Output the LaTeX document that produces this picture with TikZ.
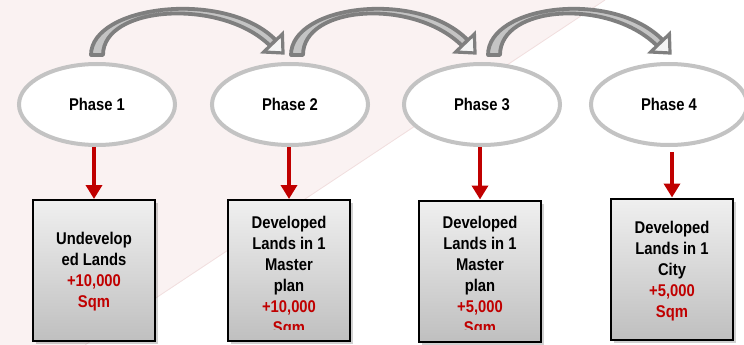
\documentclass[tikz,border=0pt]{standalone}
\usepackage{fontspec}
\newfontfamily\lsb{Liberation Sans}[FakeStretch=0.87]
\usetikzlibrary{shapes.geometric,arrows.meta,calc,shadows}
\definecolor{pinkbg}{HTML}{FAF2F2}
\definecolor{pinkline}{HTML}{F1DEDE}
\definecolor{ellgray}{HTML}{C3C3C3}
\definecolor{arrgray}{HTML}{7F7F7F}
\definecolor{arrlight}{HTML}{C4C4C4}
\definecolor{headfill}{HTML}{F4F4F4}
\definecolor{tred}{HTML}{C00000}
\begin{document}
\begin{tikzpicture}[x=1pt,y=-1pt,
 phase/.style={ellipse, draw=ellgray, line width=4pt, fill=white,
   minimum width=156pt, minimum height=81pt, inner sep=0pt,
   font=\lsb\bfseries\fontsize{17}{21}\selectfont},
 landbox/.style={rectangle, draw=black, line width=2pt,
   top color=gray!12, bottom color=gray!50,
   minimum width=122pt, minimum height=141pt, inner sep=0pt,
   drop shadow={shadow xshift=3pt, shadow yshift=-3pt, fill=black, opacity=0.18}},
 boxtext/.style={align=center, inner sep=0pt,
   font=\lsb\bfseries\fontsize{17}{21}\selectfont},
 downarrow/.style={draw=tred, line width=4pt, -{Triangle[width=16pt,length=14pt]}},
 band/.style={fill=arrlight, draw=arrgray, line width=3.8pt, line join=round},
 headtip/.style={fill=headfill, draw=arrgray, line width=3.2pt, line join=miter}
]
\useasboundingbox (0,0) rectangle (744,345);
% background
\fill[white] (0,0) rectangle (744,345);
\fill[pinkbg] (0,0) -- (605,0) -- (85,345) -- (0,345) -- cycle;
\draw[pinkline, line width=0.8pt] (605,0) -- (85,345);

% phases
\node[phase] (p1) at (97,104.5) {Phase 1};
\node[phase] (p2) at (290,104.5) {Phase 2};
\node[phase] (p3) at (482,104.5) {Phase 3};
\node[phase] (p4) at (669,104.5) {Phase 4};

% curved arrows
\foreach \a/\b/\sx/\tx in {p1/p2/0/-7, p2/p3/7/-7, p3/p4/12/1}{
  \path let \p1=($(\a.north)+(\sx,-7)$), \p2=($(\b.north)+(\tx,-9)$) in
    [band] (\x1-6pt,\y1) .. controls (\x1-6pt,\y1+50pt) and (\x2-57pt,\y2+64pt) .. (\x2-7.1pt,\y2+12.8pt)
    -- (\x2-12.9pt,\y2+7.2pt) .. controls (\x2-61pt,\y2+55pt) and (\x1+6pt,\y1+50pt) .. (\x1+6pt,\y1) -- cycle;
  \path let \p2=($(\b.north)+(\tx,-9)$) in
    [headtip] (\x2,\y2) -- (\x2-0.6pt,\y2+19pt) -- (\x2-19.4pt,\y2+1pt) -- cycle;
}

% boxes
\node[landbox] (b1) at (94,270.5) {};
\node[landbox] (b2) at (289,270.5) {};
\node[landbox] (b3) at (480,271) {};
\node[landbox] (b4) at (672,269) {};

\node[boxtext] (t1) at (94,272) {Undevelop\\ed Lands\\\textcolor{tred}{+10,000}\\\textcolor{tred}{Sqm}};
\begin{scope}
  \clip (b2.north west) rectangle ($(b2.south east)+(0,-13)$);
  \node[boxtext] (t2) at (289,276.5) {Developed\\Lands in 1\\Master\\plan\\\textcolor{tred}{+10,000}\\\textcolor{tred}{Sqm}};
\end{scope}
\begin{scope}
  \clip (b3.north west) rectangle ($(b3.south east)+(0,-13)$);
  \node[boxtext] (t3) at (480,277) {Developed\\Lands in 1\\Master\\plan\\\textcolor{tred}{+5,000}\\\textcolor{tred}{Sqm}};
\end{scope}
\node[boxtext] (t4) at (672,271) {Developed\\Lands in 1\\City\\\textcolor{tred}{+5,000}\\\textcolor{tred}{Sqm}};

% red arrows
\draw[downarrow] (b1.north |- p1.south) -- (b1.north);
\draw[downarrow] (b2.north |- p2.south) -- (b2.north);
\draw[downarrow] (b3.north |- p3.south) -- (b3.north);
\draw[downarrow] ($(b4.north |- p4.south)+(0,5)$) -- (b4.north);
\end{tikzpicture}
\end{document}
